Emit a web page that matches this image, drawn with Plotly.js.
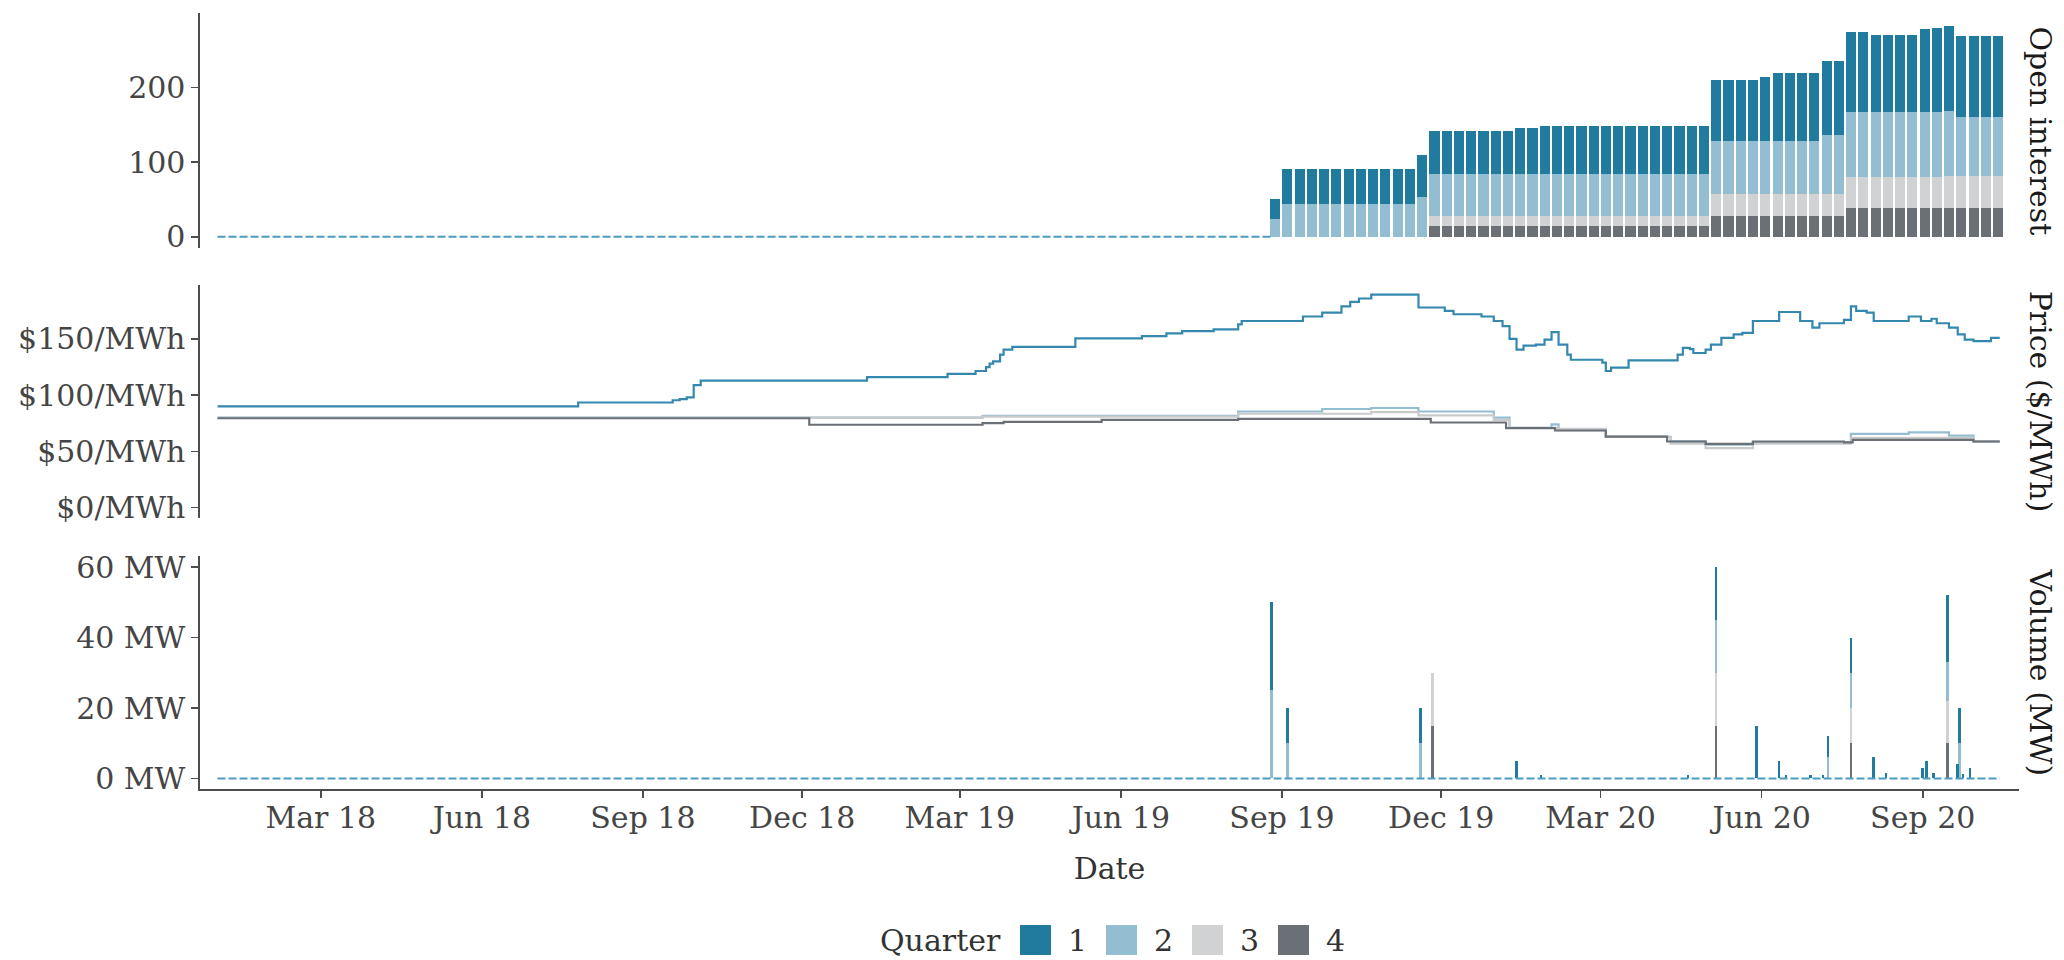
<!DOCTYPE html>
<html>
<head>
<meta charset="utf-8">
<script src="https://cdn.plot.ly/plotly-3.0.1.min.js"></script>
<style>html,body{margin:0;padding:0;background:#fff;}#chart{width:2064px;height:960px;}</style>
</head>
<body>
<div id="chart"></div>
<script>
// ---------- DATA ----------
const quarters = ['1', '2', '3', '4'];
const quarterColors = ['#217B9E', '#93BDD1', '#D1D2D4', '#6A7076'];
const priceLineColors = ['#3488AE', '#93BDD1', '#C9CACC', '#6A7076'];

// Open interest: weekly blocks (Monday of each week)
const oiWeeks = ['2019-08-26','2019-09-02','2019-09-09','2019-09-16','2019-09-23','2019-09-30','2019-10-07','2019-10-14','2019-10-21','2019-10-28',
 '2019-11-04','2019-11-11','2019-11-18','2019-11-25','2019-12-02','2019-12-09','2019-12-16','2019-12-23','2019-12-30','2020-01-06',
 '2020-01-13','2020-01-20','2020-01-27','2020-02-03','2020-02-10','2020-02-17','2020-02-24','2020-03-02','2020-03-09','2020-03-16',
 '2020-03-23','2020-03-30','2020-04-06','2020-04-13','2020-04-20','2020-04-27','2020-05-04','2020-05-11','2020-05-18','2020-05-25',
 '2020-06-01','2020-06-08','2020-06-15','2020-06-22','2020-06-29','2020-07-06','2020-07-13','2020-07-20','2020-07-27','2020-08-03',
 '2020-08-10','2020-08-17','2020-08-24','2020-08-31','2020-09-07','2020-09-14','2020-09-21','2020-09-28','2020-10-05','2020-10-12'];
const oiQ1 = [27,47,47,47,47,47,47,47,47,47, 47,47,57,58,58,58,58,58,58,58, 62,62,64,64,64,64,64,64,64,64,
 64,64,64,64,64,64,81,81,81,81, 85,91,91,91,91,99,99,107,107,104, 104,104,104,111,113,114,108,108,108,108];
const oiQ2 = [24,44,44,44,44,44,44,44,44,44, 44,44,53,56,56,56,56,56,56,56, 56,56,56,56,56,56,56,56,56,56,
 56,56,56,56,56,56,71,71,71,71, 71,71,71,71,71,78,78,87,87,87, 87,87,87,87,87,87,79,79,79,79];
const oiQ3 = [0,0,0,0,0,0,0,0,0,0, 0,0,0,14,14,14,14,14,14,14, 14,14,14,14,14,14,14,14,14,14,
 14,14,14,14,14,14,30,30,30,30, 30,30,30,30,30,30,30,41,41,41, 41,41,41,41,41,43,43,43,43,43];
const oiQ4 = [0,0,0,0,0,0,0,0,0,0, 0,0,0,14,14,14,14,14,14,14, 14,14,14,14,14,14,14,14,14,14,
 14,14,14,14,14,14,28,28,28,28, 28,28,28,28,28,28,28,39,39,39, 39,39,39,39,39,39,39,39,39,39];

// Prices ($/MWh), step changes
const priceQ1Dates = ['2018-01-01','2018-07-26','2018-09-18','2018-09-22','2018-09-26','2018-09-30','2018-10-04','2019-01-07','2019-02-22','2019-03-10',
 '2019-03-16','2019-03-18','2019-03-20','2019-03-24','2019-03-26','2019-03-31','2019-05-06','2019-06-13','2019-06-27','2019-07-06',
 '2019-07-24','2019-08-07','2019-08-09','2019-09-13','2019-09-24','2019-10-05','2019-10-10','2019-10-15','2019-10-22','2019-11-18',
 '2019-12-03','2019-12-08','2019-12-24','2019-12-31','2020-01-05','2020-01-09','2020-01-13','2020-01-17','2020-01-24','2020-01-29',
 '2020-02-02','2020-02-06','2020-02-11','2020-02-13','2020-03-02','2020-03-04','2020-03-07','2020-03-17','2020-04-14','2020-04-17',
 '2020-04-21','2020-04-23','2020-04-30','2020-05-03','2020-05-09','2020-05-16','2020-05-21','2020-05-27','2020-06-11','2020-06-23',
 '2020-06-30','2020-07-04','2020-07-18','2020-07-22','2020-07-25','2020-07-31','2020-08-04','2020-08-24','2020-08-31','2020-09-06',
 '2020-09-09','2020-09-16','2020-09-21','2020-09-25','2020-09-30','2020-10-10','2020-10-15'];
const priceQ1 = [90,93.5,95.5,96.5,98,109,113,116,119,121.5,
 125,128,130,136,140.5,143,150.5,152.5,155,157,
 158.5,163,166,170,173.5,179,183,186,189.5,178,
 175,172,170,166,161.5,150,140.5,144,145,149.5,
 156,145,136,131.5,129,121.5,124.5,131,136,142,
 141,137.5,140.5,145,151,154,155.5,166,174,166,
 160,164,167,179,175,173.5,166,170,166,168,
 164,160,154,149.5,148,151,151];

const priceQ2Dates = ['2018-01-01','2019-03-14','2019-08-07','2019-09-24','2019-10-22','2019-11-18','2019-12-31','2020-01-09','2020-02-02','2020-02-06',
 '2020-03-04','2020-04-10','2020-04-30','2020-05-27','2020-07-22','2020-08-24','2020-09-16','2020-09-30','2020-10-15'];
const priceQ2 = [80,81.7,85.5,87.7,88.6,85.5,80,71,74,69, 63,59,56,58,65.5,67,64,59,59];

const priceQ3Dates = ['2018-01-01','2019-03-14','2019-08-07','2019-10-22','2019-11-18','2019-12-31','2020-01-09','2020-02-06','2020-03-04','2020-04-10',
 '2020-04-30','2020-05-27','2020-07-22','2020-09-30','2020-10-15'];
const priceQ3 = [80,81,83.5,85,82,78,71,70,63,57, 53,57,62,59,59];

const priceQ4Dates = ['2018-01-01','2018-12-05','2019-03-14','2019-03-26','2019-05-21','2019-08-07','2019-11-25','2020-01-07','2020-02-04','2020-03-04',
 '2020-04-08','2020-04-30','2020-05-27','2020-07-18','2020-07-23','2020-09-30','2020-10-15'];
const priceQ4 = [79.5,73.7,75.2,76.3,78,79,75.7,70.7,68.6,63.2, 58.8,56.7,58.8,58,60.3,58.8,58.8];

// Volume (MW) traded per day
const volDates = ['2019-08-26','2019-09-04','2019-11-19','2019-11-26','2020-01-13','2020-01-27','2020-04-20','2020-05-06','2020-05-29','2020-06-11',
 '2020-06-15','2020-06-29','2020-07-06','2020-07-09','2020-07-22','2020-08-04','2020-08-11','2020-09-01','2020-09-03','2020-09-07',
 '2020-09-15','2020-09-21','2020-09-22','2020-09-24','2020-09-28'];
const volQ1 = [25,10,10,0,5,1,1,15,15,5, 1,1,1,6,10,6,1.5,3,5,1.5, 19,4,10,1.2,3];
const volQ2 = [25,10,10,0,0,0,0,15,0,0, 0,0,0,6,10,0,0,0,0,0, 11,0,10,0,0];
const volQ3 = [0,0,0,15,0,0,0,15,0,0, 0,0,0,0,10,0,0,0,0,0, 12,0,0,0,0];
const volQ4 = [0,0,0,15,0,0,0,15,0,0, 0,0,0,0,10,0,0,0,0,0, 10,0,0,0,0];

// axis ticks
const oiTicks = [0, 100, 200];
const oiTickText = ['0', '100', '200'];
const priceTicks = [0, 50, 100, 150];
const priceTickText = ['$0/MWh', '$50/MWh', '$100/MWh', '$150/MWh'];
const volTicks = [0, 20, 40, 60];
const volTickText = ['0 MW', '20 MW', '40 MW', '60 MW'];

// zero baseline (dashed) extents
const seriesStart = '2018-01-01';
const oiStart = '2019-08-26';
const seriesEnd = '2020-10-15';

// ---------- BUILD ----------
const DAY = 86400000;
const traces = [];
const dashLine = {color: '#4A9CC2', width: 2, dash: '8px,3px'};

traces.push({type:'scatter', mode:'lines', x:[seriesStart, oiStart], y:[0,0], xaxis:'x', yaxis:'y',
  line: dashLine, hoverinfo:'skip', showlegend:false});
traces.push({type:'scatter', mode:'lines', x:[seriesStart, seriesEnd], y:[0,0], xaxis:'x', yaxis:'y3',
  line: dashLine, hoverinfo:'skip', showlegend:false});

const oiSeries = [oiQ1, oiQ2, oiQ3, oiQ4];
for (let q = 3; q >= 0; q--) {
  traces.push({type:'bar', x: oiWeeks, y: oiSeries[q], xaxis:'x', yaxis:'y', name: quarters[q],
    marker:{color: quarterColors[q], line:{width:0}}, width: 5.8*DAY, offset: -0.8*DAY, showlegend:false});
}

const pDates = [priceQ1Dates, priceQ2Dates, priceQ3Dates, priceQ4Dates];
const pVals = [priceQ1, priceQ2, priceQ3, priceQ4];
[1,2,3,0].forEach(q => {
  traces.push({type:'scatter', mode:'lines', x: pDates[q], y: pVals[q], xaxis:'x', yaxis:'y2', name: quarters[q],
    line:{color: priceLineColors[q], width: 2.2, shape:'hv'}, showlegend:false});
});

const volSeries = [volQ1, volQ2, volQ3, volQ4];
for (let q = 3; q >= 0; q--) {
  traces.push({type:'bar', x: volDates, y: volSeries[q], xaxis:'x', yaxis:'y3', name: quarters[q],
    marker:{color: quarterColors[q], line:{width:0}}, width: 1.5*DAY, showlegend:false});
}

// ---------- LAYOUT ----------
const L = 200, R = 2019, T = 13, B = 789;
const W = R - L, H = B - T;
const px2x = X => (X - L) / W;
const px2y = Y => (B - Y) / H;

const FONT = '"DejaVu Serif", serif';
const tickFont = {family: FONT, size: 30, color: '#454545'};
const axisCommon = {showline:true, linecolor:'#4D4D4D', linewidth:1.6, ticks:'outside', ticklen:7, tickwidth:1.6,
  tickcolor:'#4D4D4D', showgrid:false, zeroline:false, tickfont: tickFont, fixedrange:true};

const shapes = [];
const annotations = [];
const legendSwatchX = [1020, 1106, 1192, 1278];
const legendY0 = 925, legendY1 = 955;
quarters.forEach((q, i) => {
  shapes.push({type:'rect', xref:'paper', yref:'paper', x0: px2x(legendSwatchX[i]), x1: px2x(legendSwatchX[i] + 31),
    y0: px2y(legendY1), y1: px2y(legendY0), fillcolor: quarterColors[i], line:{width:0}});
  annotations.push({xref:'paper', yref:'paper', x: px2x(legendSwatchX[i] + 46), y: px2y(940), xanchor:'left', yanchor:'middle',
    text: q, showarrow:false, font:{family: FONT, size: 30, color:'#333333'}});
});
annotations.push({xref:'paper', yref:'paper', x: px2x(1003), y: px2y(940), xanchor:'right', yanchor:'middle',
  text:'Quarter', showarrow:false, font:{family: FONT, size: 30, color:'#333333'}});

const strips = [['Open interest', 13, 248], ['Price ($/MWh)', 285, 518.3], ['Volume (MW)', 556, 789]];
strips.forEach(s => {
  annotations.push({xref:'paper', yref:'paper', x: px2x(2040), y: px2y((s[1] + s[2]) / 2), xanchor:'center', yanchor:'middle',
    text: s[0], textangle: 90, showarrow:false, font:{family: FONT, size: 30, color:'#1A1A1A'}});
});

const layout = {
  width: 2064, height: 960,
  margin: {l: L, r: 2064 - R, t: T, b: 960 - B, pad: 0},
  paper_bgcolor: '#FFFFFF', plot_bgcolor: '#FFFFFF',
  barmode: 'stack', bargap: 0,
  showlegend: false,
  font: {family: FONT, size: 30, color:'#333333'},
  xaxis: Object.assign({}, axisCommon, {
    anchor: 'y3', type: 'date', range: ['2017-12-22', '2020-10-26'],
    tick0: '2018-03-01', dtick: 'M3', tickformat: '%b %y', ticklabelstandoff: -6,
    title: {text: 'Date', font: {family: FONT, size: 30, color:'#333333'}, standoff: 24}
  }),
  yaxis: Object.assign({}, axisCommon, {domain: [px2y(248), px2y(13)], anchor:'x', range: [-15, 300],
    tickmode:'array', tickvals: oiTicks, ticktext: oiTickText}),
  yaxis2: Object.assign({}, axisCommon, {domain: [px2y(518.3), px2y(285)], anchor:'x', range: [-9.5, 198],
    tickmode:'array', tickvals: priceTicks, ticktext: priceTickText}),
  yaxis3: Object.assign({}, axisCommon, {domain: [0, px2y(556)], anchor:'x', range: [-3, 63.2],
    tickmode:'array', tickvals: volTicks, ticktext: volTickText}),
  shapes: shapes,
  annotations: annotations
};

Plotly.newPlot('chart', traces, layout, {displayModeBar: false, staticPlot: true});
</script>
</body>
</html>
